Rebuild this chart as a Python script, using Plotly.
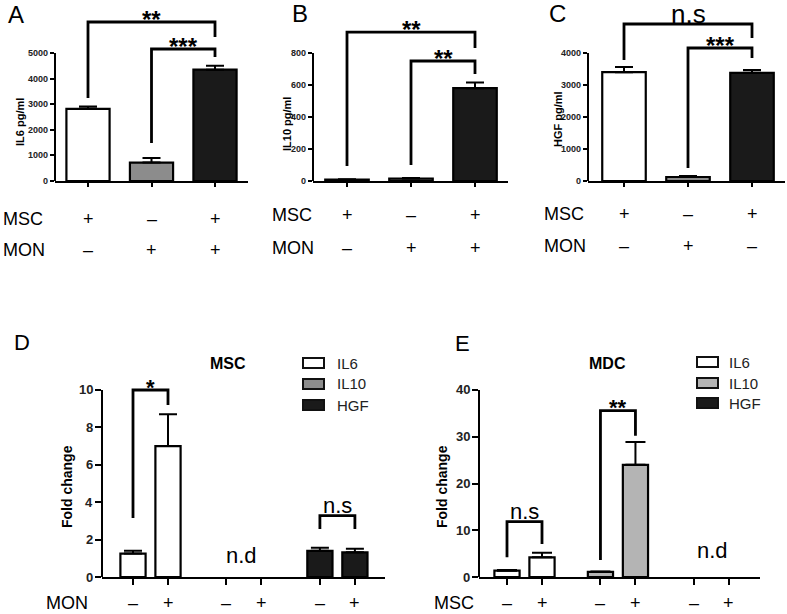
import plotly.graph_objects as go

W, H = 787, 614
FONT = "Liberation Sans, Arial, sans-serif"

# ------------------------------------------------------------------ data
# top row (A, B, C): secreted cytokine, pg/ml, three culture conditions
msc_row_abc = ["+", "–", "+"]
mon_row_ab = ["–", "+", "+"]
mon_row_c = ["–", "+", "–"]

il6_pgml = [2820, 720, 4350]
il6_pgml_err = [90, 180, 150]
il10_pgml = [8, 15, 580]
il10_pgml_err = [3, 4, 35]
hgf_pgml = [3400, 125, 3380]
hgf_pgml_err = [160, 35, 90]

top_bar_colors = ["#ffffff", "#8c8c8c", "#1a1a1a"]

# y tick labels
ticks_il6 = [0, 1000, 2000, 3000, 4000, 5000]
ticks_il10 = [0, 200, 400, 600, 800]
ticks_hgf = [0, 1000, 2000, 3000, 4000]
ticks_msc_fold = [0, 2, 4, 6, 8, 10]
ticks_mdc_fold = [0, 10, 20, 30, 40]

# significance labels: (bar i, bar j, label)
sig_a = [(0, 2, "**"), (1, 2, "***")]
sig_b = [(0, 2, "**"), (1, 2, "**")]
sig_c = [(0, 2, "n.s"), (1, 2, "***")]

# bottom row (D, E): fold change, - / + co-culture
cytokines = ["IL6", "IL10", "HGF"]
cytokine_colors_d = ["#ffffff", "#8c8c8c", "#1a1a1a"]
cytokine_colors_e = ["#ffffff", "#b4b4b4", "#1a1a1a"]
sign_row = ["–", "+"]

msc_il6_fold = [1.25, 7.0]
msc_il6_err = [0.15, 1.7]
msc_il10_fold = [None, None]  # n.d
msc_il10_err = [0, 0]
msc_hgf_fold = [1.4, 1.32]
msc_hgf_err = [0.16, 0.19]

mdc_il6_fold = [1.35, 4.2]
mdc_il6_err = [0.15, 1.0]
mdc_il10_fold = [1.1, 24.0]
mdc_il10_err = [0.1, 4.9]
mdc_hgf_fold = [None, None]  # n.d
mdc_hgf_err = [0, 0]

sig_d = [(0, 1, "*"), (4, 5, "n.s")]
sig_e = [(0, 1, "n.s"), (2, 3, "**")]

# ------------------------------------------------------------------ helpers
def fx(p):
    return p / W


def fy(p):
    return 1 - p / H


fig = go.Figure()
annotations = []
shapes = []
layout = dict(
    width=W, height=H, margin=dict(l=0, r=0, t=0, b=0),
    paper_bgcolor="white", plot_bgcolor="white",
    showlegend=False, barmode="overlay", font=dict(family=FONT, color="black"),
)


def text(x, y, s, size, bold=False, xref="paper", yref="paper", xanchor="center",
         yanchor="middle", angle=0, yshift=0, xshift=0, color="black", pad=1):
    annotations.append(dict(
        x=x, y=y, xref=xref, yref=yref, text=s, showarrow=False,
        xanchor=xanchor, yanchor=yanchor, textangle=angle, yshift=yshift, xshift=xshift,
        borderpad=pad,
        font=dict(family=FONT, size=size, color=color,
                  weight="bold" if bold else "normal"),
    ))


def setup_axes(k, xdom_px, xrange_, y0_px, ytop_px, ydomtop_px, yticks, ticklen,
               tickfont, xticks):
    xa = "xaxis" if k == 1 else f"xaxis{k}"
    ya = "yaxis" if k == 1 else f"yaxis{k}"
    scale = (y0_px - ytop_px) / yticks[-1]          # px per data unit
    y_hi = (y0_px - ydomtop_px) / scale
    layout[xa] = dict(
        domain=[fx(xdom_px[0]), fx(xdom_px[1])], range=xrange_,
        anchor="y" if k == 1 else f"y{k}",
        showline=True, linewidth=2, linecolor="black", showgrid=False, zeroline=False,
        ticks="outside", ticklen=ticklen, tickwidth=1.5, tickcolor="black",
        tickmode="array", tickvals=xticks, showticklabels=False, fixedrange=True,
    )
    layout[ya] = dict(
        domain=[fy(y0_px), fy(ydomtop_px)], range=[0, y_hi],
        anchor="x" if k == 1 else f"x{k}",
        showline=False, showgrid=False, zeroline=False,
        ticks="outside", ticklen=ticklen, tickwidth=1.5, tickcolor="black",
        tickmode="array", tickvals=yticks, showticklabels=False,
        fixedrange=True,
    )
    xr = "x" if k == 1 else f"x{k}"
    yr = "y" if k == 1 else f"y{k}"
    # GraphPad-style y axis line: only from 0 to the top tick
    shapes.append(dict(type="line", xref=f"{xr} domain", yref=yr, x0=0, x1=0,
                       y0=0, y1=yticks[-1], line=dict(color="black", width=2)))
    # tick labels, placed with the same value->pixel scale as the axis
    for v in yticks:
        text(fx(xdom_px[0] - ticklen - 1), fy(y0_px - v * scale), str(v), tickfont,
             bold=True, xanchor="right", color="#222")
    return xr, yr


def bracket(xr, yr, xa, xb, ytop, ya_low, yb_low, label, size, glyph_shift, bold):
    shapes.append(dict(
        type="path", xref=xr, yref=yr,
        path=f"M{xa},{ya_low} L{xa},{ytop} L{xb},{ytop} L{xb},{yb_low}",
        line=dict(color="black", width=2.8),
    ))
    text((xa + xb) / 2, ytop, label, size, bold=bold, xref=xr, yref=yr,
         yanchor="middle", yshift=glyph_shift)


# ------------------------------------------------------------------ top panels
Y0_TOP, YTICK_TOP, YDOM_TOP = 181, 53, 15
top_specs = [
    dict(letter="A", vals=il6_pgml, err=il6_pgml_err, mon=mon_row_ab, sig=sig_a,
         ytitle="IL6 pg/ml", yticks=ticks_il6, xdom=(55, 248), xfirst=88, xstep=63.5,
         sig_y=[(6211, 3242, 5625), (5156, 1484, 4844)],
         letter_xy=(16, 14), ytitle_xy=(20, 122), rowlab_x=1, row_y=(219, 250)),
    dict(letter="B", vals=il10_pgml, err=il10_pgml_err, mon=mon_row_ab, sig=sig_b,
         ytitle="IL10 pg/ml", yticks=ticks_il10, xdom=(313, 508), xfirst=347, xstep=64,
         sig_y=[(931, 94, 831), (750, 100, 669)],
         letter_xy=(300, 13), ytitle_xy=(287, 124), rowlab_x=270, row_y=(215, 248)),
    dict(letter="C", vals=hgf_pgml, err=hgf_pgml_err, mon=mon_row_c, sig=sig_c,
         ytitle="HGF pg/ml", yticks=ticks_hgf, xdom=(588, 785), xfirst=624, xstep=64,
         sig_y=[(4906, 3781, 4469), (4156, 406, 3844)],
         letter_xy=(557, 13), ytitle_xy=(558, 119), rowlab_x=542, row_y=(214, 246)),
]

k = 0
for sp in top_specs:
    k += 1
    n = len(sp["vals"])
    xs = list(range(n))
    x_lo = (sp["xdom"][0] - sp["xfirst"]) / sp["xstep"]
    x_hi = (sp["xdom"][1] - sp["xfirst"]) / sp["xstep"]
    xr, yr = setup_axes(k, sp["xdom"], [x_lo, x_hi], Y0_TOP, YTICK_TOP, YDOM_TOP,
                        sp["yticks"], 4, 9, xs)
    fig.add_trace(go.Bar(
        x=xs, y=sp["vals"], width=0.68, xaxis=xr, yaxis=yr,
        marker=dict(color=top_bar_colors, line=dict(color="black", width=2.2)),
        error_y=dict(type="data", array=sp["err"], arrayminus=[0] * n, symmetric=False,
                     color="black", thickness=2, width=9),
        hoverinfo="skip",
    ))
    for (i, j, lab), (yt, yl1, yl2) in zip(sp["sig"], sp["sig_y"]):
        bracket(xr, yr, xs[i], xs[j], yt, yl1, yl2, lab,
                26 if lab == "n.s" else 24,
                10 if lab == "n.s" else 3, lab != "n.s")
    text(fx(sp["letter_xy"][0]), fy(sp["letter_xy"][1]), sp["letter"], 24)
    text(fx(sp["ytitle_xy"][0]), fy(sp["ytitle_xy"][1]), sp["ytitle"], 11, bold=True,
         angle=-90)
    text(fx(sp["rowlab_x"]), fy(sp["row_y"][0]), "MSC", 18, xanchor="left")
    text(fx(sp["rowlab_x"]), fy(sp["row_y"][1]), "MON", 18, xanchor="left")
    for x, s in zip(xs, msc_row_abc):
        text(x, fy(sp["row_y"][0]), s, 18, xref=xr)
    for x, s in zip(xs, sp["mon"]):
        text(x, fy(sp["row_y"][1]), s, 18, xref=xr)

# ------------------------------------------------------------------ bottom panels
Y0_BOT, YTICK_BOT, YDOM_BOT = 577, 390, 380
GROUP_STEP = 2.67
bot_positions = [g * GROUP_STEP + s for g in range(len(cytokines)) for s in range(len(sign_row))]

bot_specs = [
    dict(letter="D", title="MSC", row="MON", colors=cytokine_colors_d,
         series=[(msc_il6_fold, msc_il6_err), (msc_il10_fold, msc_il10_err),
                 (msc_hgf_fold, msc_hgf_err)],
         sig=sig_d, sig_y=[(10.0, 3.15, 9.2), (3.28, 2.57, 2.57)],
         nd_xy=(242, 555), yticks=ticks_msc_fold,
         xdom=(102, 385), xfirst=133, xstep=35,
         letter_xy=(22, 342), title_xy=(228, 363), ytitle_xy=(67, 487),
         rowlab_x=45, legend_box_x=(303, 324), legend_rows=(363, 384, 405),
         legend_text_x=335, errw=9),
    dict(letter="E", title="MDC", row="MSC", colors=cytokine_colors_e,
         series=[(mdc_il6_fold, mdc_il6_err), (mdc_il10_fold, mdc_il10_err),
                 (mdc_hgf_fold, mdc_hgf_err)],
         sig=sig_e, sig_y=[(11.83, 4.21, 7.06), (35.6, 3.64, 30.2)],
         nd_xy=(712, 550), yticks=ticks_mdc_fold,
         xdom=(479, 760), xfirst=507, xstep=35,
         letter_xy=(462, 343), title_xy=(607, 363), ytitle_xy=(442, 487),
         rowlab_x=433, legend_box_x=(697, 718), legend_rows=(362, 383, 403),
         legend_text_x=727, errw=10),
]

for sp in bot_specs:
    k += 1
    x_lo = (sp["xdom"][0] - sp["xfirst"]) / sp["xstep"]
    x_hi = (sp["xdom"][1] - sp["xfirst"]) / sp["xstep"]
    xr, yr = setup_axes(k, sp["xdom"], [x_lo, x_hi], Y0_BOT, YTICK_BOT, YDOM_BOT,
                        sp["yticks"], 6, 13, bot_positions)
    for g, (name, col, (vals, err)) in enumerate(zip(cytokines, sp["colors"], sp["series"])):
        xs = bot_positions[2 * g: 2 * g + 2]
        fig.add_trace(go.Bar(
            x=xs, y=vals, width=0.72, xaxis=xr, yaxis=yr, name=name,
            marker=dict(color=col, line=dict(color="black", width=2.2)),
            error_y=dict(type="data", array=err, arrayminus=[0] * len(err), symmetric=False,
                         color="black", thickness=2, width=sp["errw"]),
            hoverinfo="skip",
        ))
        # legend swatch + label
        ry = sp["legend_rows"][g]
        shapes.append(dict(type="rect", xref="paper", yref="paper",
                           x0=fx(sp["legend_box_x"][0]), x1=fx(sp["legend_box_x"][1]),
                           y0=fy(ry + 5), y1=fy(ry - 5), fillcolor=col,
                           line=dict(color="#111", width=2)))
        text(fx(sp["legend_text_x"]), fy(ry), name, 15, xanchor="left", color="#222")
    for (i, j, lab), (yt, yl1, yl2) in zip(sp["sig"], sp["sig_y"]):
        bracket(xr, yr, bot_positions[i], bot_positions[j], yt, yl1, yl2, lab,
                22, 10 if lab == "n.s" else 3, lab != "n.s")
    text(fx(sp["nd_xy"][0]), fy(sp["nd_xy"][1]), "n.d", 22)
    text(fx(sp["letter_xy"][0]), fy(sp["letter_xy"][1]), sp["letter"], 22)
    text(fx(sp["title_xy"][0]), fy(sp["title_xy"][1]), sp["title"], 16, bold=True)
    text(fx(sp["ytitle_xy"][0]), fy(sp["ytitle_xy"][1]), "Fold change", 14, bold=True,
         angle=-90)
    # bottom sign row sits on the lower edge of the figure
    text(fx(sp["rowlab_x"]), 0, sp["row"], 18, xanchor="left", yanchor="bottom", pad=0)
    for x, s in zip(bot_positions, sign_row * len(cytokines)):
        text(x, 0, s, 18, xref=xr, yanchor="bottom", pad=0)

layout["annotations"] = annotations
layout["shapes"] = shapes
fig.update_layout(**layout)

PAGE_FIX = (
    "var r=document.documentElement.style;r.margin='0';r.padding='0';r.overflow='hidden';"
    "r.height='614px';"
    "var b=document.body.style;b.margin='0';b.padding='0';b.overflow='hidden';b.height='614px';"
    "var g=document.getElementById('fig');g.style.position='fixed';g.style.top='0';"
    "g.style.left='0';"
)
fig.write_html("out.html", div_id="fig", config={"displayModeBar": False},
               post_script=PAGE_FIX)
